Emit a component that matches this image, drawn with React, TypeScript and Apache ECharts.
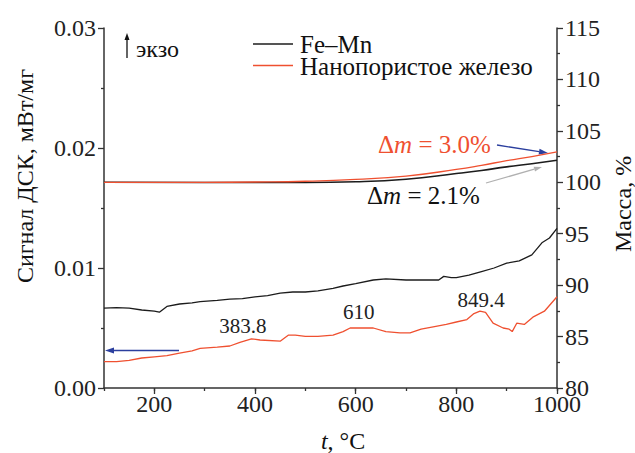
import React, { useEffect, useRef } from 'react';
import * as echarts from 'echarts';

// DSC signal, mW/mg (left axis)
const dscFeMn: [number, number][] = [
  [100, 0.00665], [125, 0.0067], [150, 0.00665], [175, 0.0065], [200, 0.0064], [210, 0.00632],
  [225, 0.0068], [250, 0.0070], [275, 0.0071], [291, 0.0072], [325, 0.0073], [350, 0.0074],
  [375, 0.00745], [400, 0.0076], [425, 0.0077], [450, 0.0079], [475, 0.0080], [500, 0.0080],
  [525, 0.0081], [555, 0.0083], [575, 0.0085], [600, 0.0087], [635, 0.0090], [660, 0.0091],
  [700, 0.0090], [725, 0.0090], [750, 0.0090], [765, 0.0090], [775, 0.0093], [790, 0.0092],
  [800, 0.0092], [825, 0.0094], [850, 0.0097], [875, 0.0100], [900, 0.0104], [925, 0.0106],
  [950, 0.0111], [960, 0.0116], [970, 0.0121], [985, 0.0125], [1000, 0.0133],
];
const dscNano: [number, number][] = [
  [100, 0.0022], [125, 0.0022], [150, 0.0023], [175, 0.0025], [200, 0.0026], [225, 0.0027],
  [250, 0.0029], [275, 0.0031], [291, 0.0033], [325, 0.0034], [350, 0.0035], [370, 0.0038],
  [393, 0.0041], [410, 0.0040], [450, 0.0039], [466, 0.0044], [480, 0.0044], [500, 0.0043],
  [525, 0.0043], [555, 0.0044], [575, 0.0047], [589, 0.0050], [610, 0.0050], [635, 0.0050],
  [660, 0.0047], [688, 0.0046], [708, 0.0046], [730, 0.0049], [754, 0.0051], [780, 0.0053],
  [800, 0.0055], [821, 0.0057], [835, 0.0062], [847, 0.0064], [858, 0.0063], [873, 0.0054],
  [893, 0.0050], [905, 0.0049], [911, 0.0047], [920, 0.0054], [935, 0.0053], [952, 0.0059],
  [975, 0.0064], [1000, 0.0076],
];

// Mass, % (right axis)
const tgFeMn: [number, number][] = [
  [100, 100], [300, 99.98], [500, 99.98], [600, 100.05], [700, 100.3], [800, 100.85],
  [850, 101.15], [900, 101.5], [950, 101.8], [1000, 102.15],
];
const tgNano: [number, number][] = [
  [100, 100], [300, 100], [400, 100.03], [500, 100.1], [600, 100.28], [700, 100.6],
  [800, 101.25], [850, 101.65], [900, 102.1], [950, 102.5], [1000, 102.95],
];

const xMajorTicks = [200, 400, 600, 800, 1000];
const peakLabels = ['383.8', '610', '849.4'];
const seriesNames = ['Fe–Mn', 'Нанопористое железо'];

const FONT = 'Liberation Serif';
const BLACK = '#1c1c1c';
const RED = '#ef5030';
const AXIS = '#333';

function arrowHead(x1: number, y1: number, x2: number, y2: number, color: string, len = 8, w = 3) {
  const a = Math.atan2(y2 - y1, x2 - x1);
  const bx = x2 - len * Math.cos(a);
  const by = y2 - len * Math.sin(a);
  const px = -Math.sin(a) * w;
  const py = Math.cos(a) * w;
  return [
    { type: 'line', shape: { x1, y1, x2: bx, y2: by }, style: { stroke: color, lineWidth: 1.3 } },
    {
      type: 'polygon',
      shape: { points: [[x2, y2], [bx + px, by + py], [bx - px, by - py]] },
      style: { fill: color },
    },
  ];
}

export default function App() {
  const ref = useRef<HTMLDivElement>(null);
  useEffect(() => {
    if (!ref.current) return;
    const chart = echarts.init(ref.current, null, { renderer: 'svg' });
    const axisLine = { show: true, lineStyle: { color: AXIS, width: 1.5 } };
    const labelStyle = { fontFamily: FONT, fontSize: 24, color: '#222' };
    chart.setOption({
      animation: false,
      backgroundColor: '#fff',
      textStyle: { fontFamily: FONT },
      grid: { left: 104, right: 78, top: 28, bottom: 65, containLabel: false },
      xAxis: [
        {
          type: 'value', min: 100, max: 1000, position: 'bottom',
          axisLine,
          axisTick: { show: true, customValues: xMajorTicks, length: 6, lineStyle: { color: AXIS, width: 1.3 } },
          axisLabel: { ...labelStyle, customValues: xMajorTicks, margin: 4, formatter: (v: number) => String(v) },
          splitLine: { show: false },
        },
        {
          type: 'value', min: 100, max: 1000, interval: 100, position: 'bottom',
          axisLine: { show: false },
          axisTick: { show: true, length: 3, lineStyle: { color: AXIS, width: 1.3 } },
          axisLabel: { show: false },
          splitLine: { show: false },
        },
      ],
      yAxis: [
        {
          type: 'value', min: 0, max: 0.03, interval: 0.01, position: 'left',
          axisLine,
          axisTick: { show: true, length: 6, lineStyle: { color: AXIS, width: 1.3 } },
          minorTick: { show: true, splitNumber: 2, length: 3, lineStyle: { color: AXIS, width: 1.3 } },
          axisLabel: { ...labelStyle, margin: 8, formatter: (v: number) => v.toFixed(2) },
          splitLine: { show: false },
        },
        {
          type: 'value', min: 80, max: 115, interval: 5, position: 'right',
          axisLine,
          axisTick: { show: true, length: 6, lineStyle: { color: AXIS, width: 1.3 } },
          minorTick: { show: true, splitNumber: 2, length: 3, lineStyle: { color: AXIS, width: 1.3 } },
          axisLabel: { ...labelStyle, margin: 8 },
          splitLine: { show: false },
        },
      ],
      series: [
        { name: seriesNames[0], type: 'line', yAxisIndex: 0, data: dscFeMn, showSymbol: false, lineStyle: { color: BLACK, width: 1.3 }, itemStyle: { color: BLACK } },
        {
          name: seriesNames[1], type: 'line', yAxisIndex: 0, data: dscNano, showSymbol: false,
          lineStyle: { color: RED, width: 1.3 }, itemStyle: { color: RED },
          markPoint: {
            symbol: 'circle', symbolSize: 0,
            label: { show: true, fontFamily: FONT, fontSize: 21, color: '#222', position: 'top' },
            data: [
              { coord: [383.8, 0.0042], value: peakLabels[0], label: { offset: [-4, 4], formatter: peakLabels[0] } },
              { coord: [610, 0.0053], value: peakLabels[1], label: { offset: [-2, 3], formatter: peakLabels[1] } },
              { coord: [849.4, 0.0064], value: peakLabels[2], label: { offset: [0, 4], formatter: peakLabels[2] } },
            ],
          },
        },
        { name: seriesNames[0], type: 'line', yAxisIndex: 1, data: tgFeMn, smooth: true, showSymbol: false, lineStyle: { color: BLACK, width: 1.6 }, itemStyle: { color: BLACK } },
        { name: seriesNames[1], type: 'line', yAxisIndex: 1, data: tgNano, smooth: true, showSymbol: false, lineStyle: { color: RED, width: 1.3 }, itemStyle: { color: RED } },
      ],
      graphic: [
        // legend
        { type: 'line', shape: { x1: 253, y1: 44, x2: 293, y2: 44 }, style: { stroke: BLACK, lineWidth: 1.3 } },
        { type: 'text', x: 300, y: 44, style: { text: seriesNames[0], fontFamily: FONT, fontSize: 25, lineHeight: 20, fill: '#111', verticalAlign: 'middle' } },
        { type: 'line', shape: { x1: 253, y1: 65.5, x2: 293, y2: 65.5 }, style: { stroke: RED, lineWidth: 1.3 } },
        { type: 'text', x: 300, y: 66, style: { text: seriesNames[1], fontFamily: FONT, fontSize: 25, lineHeight: 20, fill: '#111', verticalAlign: 'middle' } },
        // exo arrow
        ...arrowHead(127, 58, 127, 33, '#111', 7, 2.5),
        { type: 'text', x: 136, y: 49, style: { text: 'экзо', fontFamily: FONT, fontSize: 24, fill: '#111', verticalAlign: 'middle' } },
        // Δm labels
        {
          type: 'text', x: 378, y: 144,
          style: {
            text: 'Δ{i|m} = 3.0%', fontFamily: FONT, fontSize: 25, fill: RED, verticalAlign: 'middle',
            rich: { i: { fontStyle: 'italic', fontFamily: FONT, fontSize: 25, fill: RED } },
          },
        },
        ...arrowHead(497, 145, 548, 153, '#2b3f9e', 9, 3),
        {
          type: 'text', x: 367, y: 195,
          style: {
            text: 'Δ{i|m} = 2.1%', fontFamily: FONT, fontSize: 25, fill: '#111', verticalAlign: 'middle',
            rich: { i: { fontStyle: 'italic', fontFamily: FONT, fontSize: 25, fill: '#111' } },
          },
        },
        ...arrowHead(486, 183, 542, 167, '#b0b0b0', 8, 2.5),
        // blue arrow to left axis
        ...arrowHead(179, 350.5, 105, 350.5, '#2b3f9e', 9, 3),
        // axis names
        {
          type: 'text', x: 25, y: 176, rotation: Math.PI / 2,
          style: { text: 'Сигнал ДСК, мВт/мг', fontFamily: FONT, fontSize: 24, fill: '#111', align: 'center', verticalAlign: 'middle' },
        },
        {
          type: 'text', x: 623, y: 204, rotation: Math.PI / 2,
          style: { text: 'Масса, %', fontFamily: FONT, fontSize: 24, fill: '#111', align: 'center', verticalAlign: 'middle' },
        },
        {
          type: 'text', x: 343, y: 441,
          style: {
            text: '{i|t}, °C', fontFamily: FONT, fontSize: 24, lineHeight: 22, fill: '#111', align: 'center', verticalAlign: 'middle',
            rich: { i: { fontStyle: 'italic', fontFamily: FONT, fontSize: 24, lineHeight: 22 } },
          },
        },
      ],
    });
    return () => chart.dispose();
  }, []);
  return (
    <div
      ref={ref}
      style={{ width: 635, height: 453, position: 'absolute', left: 0, top: 0, fontFamily: FONT }}
    />
  );
}
